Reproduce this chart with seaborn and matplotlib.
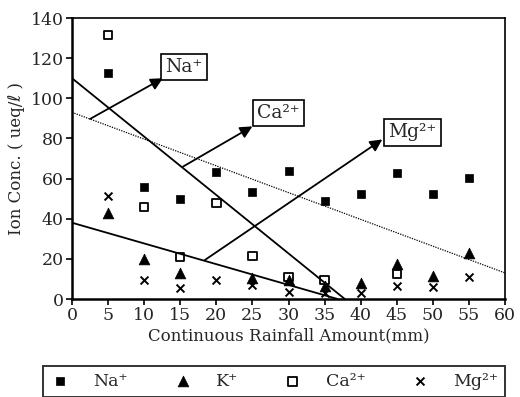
import matplotlib
matplotlib.use("Agg")
import matplotlib.pyplot as plt
import seaborn as sns
import numpy as np
import pandas as pd

rain = [5, 10, 15, 20, 25, 30, 35, 40, 45, 50, 55]
na = [112.8, 56, 49.7, 63.4, 53.5, 63.9, 48.8, 52.3, 63, 52.3, 60.1]
k = [43, 19.9, 12.8, np.nan, 10.3, 9.5, 6.5, 7.8, 17.4, 11.6, 23]
ca = [131.5, 45.8, 20.8, 47.7, 21.4, 11.1, 9.5, np.nan, 12.5, np.nan, np.nan]
mg = [51.3, 9.5, 5.6, 9.5, 7, 3.6, 3, 3.2, 6.5, 5.8, 10.8]

# regression lines (endpoints)
na_line_x = [0, 60]
na_line_y = [93, 13]
ca_line_x = [0, 37.8]
ca_line_y = [110, 0]
mg_line_x = [0, 36.8]
mg_line_y = [38, 0]

labels = ["Na⁺", "K⁺", "Ca²⁺", "Mg²⁺"]

sns.set_theme(style="ticks")
plt.rcParams["font.family"] = ["DejaVu Serif", "DejaVu Sans"]

fig = plt.figure(figsize=(5.2, 3.97), dpi=100)
ax = fig.add_axes([72/520, 1-299/397, (505-72)/520, (299-18)/397])

df = pd.DataFrame({"x": rain, "na": na, "k": k, "ca": ca, "mg": mg})

sns.scatterplot(data=df, x="x", y="na", ax=ax, marker="s", s=36, color="black",
                edgecolor="black", linewidth=0.5, label=labels[0], zorder=3)
sns.scatterplot(data=df, x="x", y="k", ax=ax, marker="^", s=60, color="black",
                edgecolor="black", linewidth=0.5, label=labels[1], zorder=3)
sns.scatterplot(data=df, x="x", y="ca", ax=ax, marker="s", s=36, facecolor="none",
                edgecolor="black", linewidth=1.3, label=labels[2], zorder=4)
sns.scatterplot(data=df, x="x", y="mg", ax=ax, marker="x", s=32, color="black",
                linewidth=1.4, label=labels[3], zorder=4)

sns.lineplot(x=na_line_x, y=na_line_y, ax=ax, color="black", lw=0.9,
             linestyle=(0, (1, 1)), zorder=2)
sns.lineplot(x=ca_line_x, y=ca_line_y, ax=ax, color="black", lw=1.3, zorder=2)
sns.lineplot(x=mg_line_x, y=mg_line_y, ax=ax, color="black", lw=1.3, zorder=2)

# arrows with labels
arrows = [
    ((2.5, 89.7), (12.6, 110), (15.5, 115.5), labels[0]),
    ((15.4, 66), (25.0, 86), (28.6, 92.7), labels[2]),
    ((18.4, 19.4), (43.0, 79.5), (47.2, 83), labels[3]),
]
for start, end, tpos, txt in arrows:
    ax.annotate("", xy=end, xytext=start,
                arrowprops=dict(arrowstyle="-|>", color="black", lw=1.3,
                                mutation_scale=18, shrinkA=0, shrinkB=0),
                zorder=5)
    ax.text(tpos[0], tpos[1], txt, ha="center", va="center", fontsize=13.5,
            bbox=dict(boxstyle="square,pad=0.22", facecolor="white",
                      edgecolor="black", lw=1.2), zorder=6)

ax.set_xlim(0, 60)
ax.set_ylim(0, 140)
ax.set_xticks(np.arange(0, 61, 5))
ax.set_yticks(np.arange(0, 141, 20))
ax.tick_params(axis="both", labelsize=12.5, length=4, width=1.2,
               direction="out", color="black", pad=2)
for side in ["left", "bottom"]:
    ax.spines[side].set_linewidth(1.8)
for side in ["top", "right"]:
    ax.spines[side].set_visible(True)
    ax.spines[side].set_linewidth(1.2)
for sp in ax.spines.values():
    sp.set_color("black")

ax.set_xlabel("Continuous Rainfall Amount(mm)", fontsize=12, labelpad=2)
ax.set_ylabel("Ion Conc. ( ueq/ℓ )", fontsize=12, labelpad=4)

handles, lbls = ax.get_legend_handles_labels()
ax.get_legend().remove()
leg = fig.legend(handles, lbls, ncol=4, loc="lower left",
                 bbox_to_anchor=(43/520, 1-397/397, (505-43)/520, 34/397),
                 mode="expand", frameon=True, fancybox=False, fontsize=12.5,
                 handletextpad=1.3, borderaxespad=0, handlelength=1.2,
                 borderpad=0.4)
leg.get_frame().set_edgecolor("black")
leg.get_frame().set_linewidth(1.4)

fig.savefig("out.png", dpi=100)
